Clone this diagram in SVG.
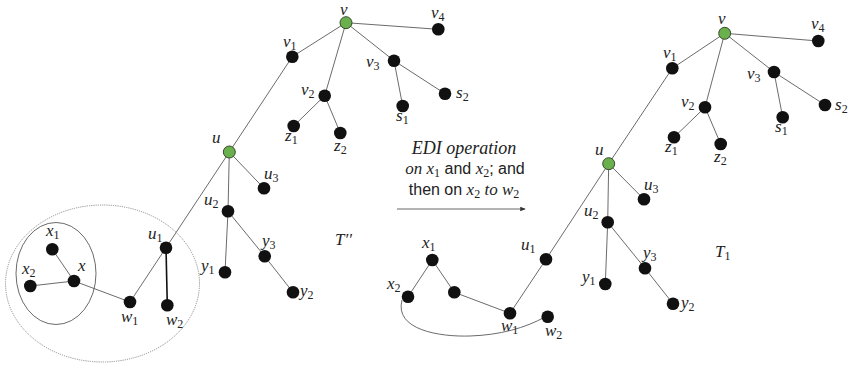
<svg xmlns="http://www.w3.org/2000/svg" width="852" height="366" viewBox="0 0 852 366">
  <style>
    .edge { stroke: #5a5a5a; stroke-width: 0.9; fill: none; }
    .bold { stroke: #111; stroke-width: 1.6; }
    .node { fill: #111; }
    .root { fill: #6ab04c; stroke: #2b3a22; stroke-width: 0.9; }
    .m { font-family: "Liberation Serif", "DejaVu Serif", serif; font-style: italic; font-size: 17px; fill: #222; }
    .s { font-size: 12px; font-style: normal; }
    .t { font-family: "Liberation Sans", "Open Sans", sans-serif; font-style: normal; font-size: 16px; fill: #222; }
  </style>
  <defs>
    <marker id="arrowhead" viewBox="0 0 8 8" refX="7" refY="4" markerWidth="6" markerHeight="6" orient="auto">
      <path d="M0,0.5 L8,4 L0,7.5 z" fill="#333"/>
    </marker>
  </defs>
  <rect width="852" height="366" fill="#fff"/>

  <!-- left tree: T'' -->
  <g id="connectors-left">
    <ellipse cx="102.5" cy="283.5" rx="97" ry="78.5" fill="none" stroke="#777" stroke-width="0.8" stroke-dasharray="1.2 1"/>
    <ellipse cx="56" cy="273.5" rx="40" ry="51" fill="none" stroke="#444" stroke-width="0.8"/>
    <line class="edge" x1="346" y1="22.7" x2="292.3" y2="56.7"/>
    <line class="edge" x1="346" y1="22.7" x2="438.3" y2="29.3"/>
    <line class="edge" x1="346" y1="22.7" x2="324.7" y2="95.7"/>
    <line class="edge" x1="346" y1="22.7" x2="394" y2="60.7"/>
    <line class="edge" x1="394" y1="60.7" x2="402.7" y2="106"/>
    <line class="edge" x1="394" y1="60.7" x2="445" y2="93.7"/>
    <line class="edge" x1="324.7" y1="95.7" x2="293.7" y2="126"/>
    <line class="edge" x1="324.7" y1="95.7" x2="340.3" y2="133"/>
    <line class="edge" x1="292.3" y1="56.7" x2="229.3" y2="152"/>
    <line class="edge" x1="229.3" y1="152" x2="264" y2="188.3"/>
    <line class="edge" x1="229.3" y1="152" x2="228" y2="211.3"/>
    <line class="edge" x1="229.3" y1="152" x2="166" y2="247.7"/>
    <line class="edge" x1="228" y1="211.3" x2="225" y2="272.3"/>
    <line class="edge" x1="228" y1="211.3" x2="264.7" y2="256.3"/>
    <line class="edge" x1="264.7" y1="256.3" x2="293" y2="292.3"/>
    <line class="edge" x1="166" y1="247.7" x2="130" y2="302"/>
    <line class="edge bold" x1="166" y1="247.7" x2="167.3" y2="305.3"/>
    <line class="edge" x1="130" y1="302" x2="74" y2="281"/>
    <line class="edge" x1="74" y1="281" x2="52.3" y2="249.3"/>
    <line class="edge" x1="74" y1="281" x2="30.3" y2="286"/>
  </g>

  <g id="L-v"><circle class="root" cx="346" cy="22.7" r="6"/><text class="m" x="340" y="15">v</text></g>
  <g id="L-v4"><circle class="node" cx="438.3" cy="29.3" r="6.3"/><text class="m" x="431" y="18">v<tspan class="s" dy="3">4</tspan></text></g>
  <g id="L-v1"><circle class="node" cx="292.3" cy="56.7" r="6.3"/><text class="m" x="283" y="47">v<tspan class="s" dy="3">1</tspan></text></g>
  <g id="L-v3"><circle class="node" cx="394" cy="60.7" r="6.3"/><text class="m" x="366" y="67">v<tspan class="s" dy="3">3</tspan></text></g>
  <g id="L-v2"><circle class="node" cx="324.7" cy="95.7" r="6.3"/><text class="m" x="301" y="95">v<tspan class="s" dy="3">2</tspan></text></g>
  <g id="L-s2"><circle class="node" cx="445" cy="93.7" r="6.3"/><text class="m" x="456" y="98">s<tspan class="s" dy="3">2</tspan></text></g>
  <g id="L-s1"><circle class="node" cx="402.7" cy="106" r="6.3"/><text class="m" x="396" y="121">s<tspan class="s" dy="3">1</tspan></text></g>
  <g id="L-z1"><circle class="node" cx="293.7" cy="126" r="6.3"/><text class="m" x="285" y="141">z<tspan class="s" dy="3">1</tspan></text></g>
  <g id="L-z2"><circle class="node" cx="340.3" cy="133" r="6.3"/><text class="m" x="334" y="151">z<tspan class="s" dy="3">2</tspan></text></g>
  <g id="L-u"><circle class="root" cx="229.3" cy="152" r="6"/><text class="m" x="212" y="143">u</text></g>
  <g id="L-u3"><circle class="node" cx="264" cy="188.3" r="6.3"/><text class="m" x="264" y="179">u<tspan class="s" dy="3">3</tspan></text></g>
  <g id="L-u2"><circle class="node" cx="228" cy="211.3" r="6.3"/><text class="m" x="204" y="205">u<tspan class="s" dy="3">2</tspan></text></g>
  <g id="L-y3"><circle class="node" cx="264.7" cy="256.3" r="6.3"/><text class="m" x="262" y="246">y<tspan class="s" dy="3">3</tspan></text></g>
  <g id="L-y1"><circle class="node" cx="225" cy="272.3" r="6.3"/><text class="m" x="201" y="271">y<tspan class="s" dy="3">1</tspan></text></g>
  <g id="L-y2"><circle class="node" cx="293" cy="292.3" r="6.3"/><text class="m" x="300" y="296">y<tspan class="s" dy="3">2</tspan></text></g>
  <g id="L-u1"><circle class="node" cx="166" cy="247.7" r="6.3"/><text class="m" x="148" y="239">u<tspan class="s" dy="3">1</tspan></text></g>
  <g id="L-w1"><circle class="node" cx="130" cy="302" r="6.3"/><text class="m" x="121" y="322">w<tspan class="s" dy="3">1</tspan></text></g>
  <g id="L-w2"><circle class="node" cx="167.3" cy="305.3" r="6.3"/><text class="m" x="166" y="325">w<tspan class="s" dy="3">2</tspan></text></g>
  <g id="L-x"><circle class="node" cx="74" cy="281" r="6.3"/><text class="m" x="78" y="271">x</text></g>
  <g id="L-x1"><circle class="node" cx="52.3" cy="249.3" r="6.3"/><text class="m" x="46" y="236">x<tspan class="s" dy="3">1</tspan></text></g>
  <g id="L-x2"><circle class="node" cx="30.3" cy="286" r="6.3"/><text class="m" x="22" y="274">x<tspan class="s" dy="3">2</tspan></text></g>
  <text class="m" x="335" y="245">T′′</text>

  <!-- transformation arrow -->
  <g id="operation">
    <text class="m" x="464" y="154" text-anchor="middle" style="font-size:18px">EDI operation</text>
    <text class="t" x="465" y="174" text-anchor="middle"><tspan class="m">on x</tspan><tspan class="m s" dy="3">1</tspan><tspan dy="-3"> and </tspan><tspan class="m">x</tspan><tspan class="m s" dy="3">2</tspan><tspan dy="-3">; and</tspan></text>
    <text class="t" x="464" y="195" text-anchor="middle">then on <tspan class="m">x</tspan><tspan class="m s" dy="3">2</tspan><tspan class="m" dy="-3"> to  w</tspan><tspan class="m s" dy="3">2</tspan></text>
    <line x1="397" y1="209" x2="525" y2="209" stroke="#555" stroke-width="0.9" marker-end="url(#arrowhead)"/>
  </g>

  <!-- right tree: T1 -->
  <g id="connectors-right">
    <line class="edge" x1="724.7" y1="33.3" x2="672.3" y2="68.3"/>
    <line class="edge" x1="724.7" y1="33.3" x2="818.3" y2="41"/>
    <line class="edge" x1="724.7" y1="33.3" x2="705" y2="107.3"/>
    <line class="edge" x1="724.7" y1="33.3" x2="774" y2="72"/>
    <line class="edge" x1="774" y1="72" x2="782.7" y2="117.3"/>
    <line class="edge" x1="774" y1="72" x2="825" y2="105"/>
    <line class="edge" x1="705" y1="107.3" x2="674" y2="137.3"/>
    <line class="edge" x1="705" y1="107.3" x2="720.7" y2="144"/>
    <line class="edge" x1="672.3" y1="68.3" x2="608.7" y2="163.7"/>
    <line class="edge" x1="608.7" y1="163.7" x2="644" y2="199.3"/>
    <line class="edge" x1="608.7" y1="163.7" x2="607.7" y2="222.3"/>
    <line class="edge" x1="608.7" y1="163.7" x2="546" y2="259.3"/>
    <line class="edge" x1="607.7" y1="222.3" x2="605.3" y2="284"/>
    <line class="edge" x1="607.7" y1="222.3" x2="645" y2="268.3"/>
    <line class="edge" x1="645" y1="268.3" x2="673" y2="303.7"/>
    <line class="edge" x1="546" y1="259.3" x2="510" y2="313.3"/>
    <line class="edge" x1="510" y1="313.3" x2="454.3" y2="292.3"/>
    <line class="edge" x1="454.3" y1="292.3" x2="432.3" y2="260"/>
    <line class="edge" x1="432.3" y1="260" x2="408" y2="296.7"/>
    <path class="edge" d="M402,300 C394,330 440,337 470,336 C500,335 525,328 545,317"/>
  </g>

  <g id="R-v"><circle class="root" cx="724.7" cy="33.3" r="6"/><text class="m" x="718" y="24">v</text></g>
  <g id="R-v4"><circle class="node" cx="818.3" cy="41" r="6.3"/><text class="m" x="811" y="29">v<tspan class="s" dy="3">4</tspan></text></g>
  <g id="R-v1"><circle class="node" cx="672.3" cy="68.3" r="6.3"/><text class="m" x="663" y="58">v<tspan class="s" dy="3">1</tspan></text></g>
  <g id="R-v3"><circle class="node" cx="774" cy="72" r="6.3"/><text class="m" x="747" y="79">v<tspan class="s" dy="3">3</tspan></text></g>
  <g id="R-v2"><circle class="node" cx="705" cy="107.3" r="6.3"/><text class="m" x="681" y="107">v<tspan class="s" dy="3">2</tspan></text></g>
  <g id="R-s2"><circle class="node" cx="825" cy="105" r="6.3"/><text class="m" x="835" y="110">s<tspan class="s" dy="3">2</tspan></text></g>
  <g id="R-s1"><circle class="node" cx="782.7" cy="117.3" r="6.3"/><text class="m" x="775" y="132">s<tspan class="s" dy="3">1</tspan></text></g>
  <g id="R-z1"><circle class="node" cx="674" cy="137.3" r="6.3"/><text class="m" x="665" y="152">z<tspan class="s" dy="3">1</tspan></text></g>
  <g id="R-z2"><circle class="node" cx="720.7" cy="144" r="6.3"/><text class="m" x="714" y="162">z<tspan class="s" dy="3">2</tspan></text></g>
  <g id="R-u"><circle class="root" cx="608.7" cy="163.7" r="6"/><text class="m" x="595" y="155">u</text></g>
  <g id="R-u3"><circle class="node" cx="644" cy="199.3" r="6.3"/><text class="m" x="644" y="190">u<tspan class="s" dy="3">3</tspan></text></g>
  <g id="R-u2"><circle class="node" cx="607.7" cy="222.3" r="6.3"/><text class="m" x="584" y="216">u<tspan class="s" dy="3">2</tspan></text></g>
  <g id="R-y3"><circle class="node" cx="645" cy="268.3" r="6.3"/><text class="m" x="643" y="258">y<tspan class="s" dy="3">3</tspan></text></g>
  <g id="R-y1"><circle class="node" cx="605.3" cy="284" r="6.3"/><text class="m" x="582" y="282">y<tspan class="s" dy="3">1</tspan></text></g>
  <g id="R-y2"><circle class="node" cx="673" cy="303.7" r="6.3"/><text class="m" x="681" y="308">y<tspan class="s" dy="3">2</tspan></text></g>
  <g id="R-u1"><circle class="node" cx="546" cy="259.3" r="6.3"/><text class="m" x="521" y="250">u<tspan class="s" dy="3">1</tspan></text></g>
  <g id="R-w1"><circle class="node" cx="510" cy="313.3" r="6.3"/><text class="m" x="501" y="331">w<tspan class="s" dy="3">1</tspan></text></g>
  <g id="R-w2"><circle class="node" cx="547.7" cy="316.7" r="6.3"/><text class="m" x="545" y="336">w<tspan class="s" dy="3">2</tspan></text></g>
  <g id="R-x"><circle class="node" cx="454.3" cy="292.3" r="6.3"/></g>
  <g id="R-x1"><circle class="node" cx="432.3" cy="260" r="6.3"/><text class="m" x="422" y="248">x<tspan class="s" dy="3">1</tspan></text></g>
  <g id="R-x2"><circle class="node" cx="408" cy="296.7" r="6.3"/><text class="m" x="387" y="289">x<tspan class="s" dy="3">2</tspan></text></g>
  <text class="m" x="715" y="257">T<tspan class="s" dy="3">1</tspan></text>
</svg>
